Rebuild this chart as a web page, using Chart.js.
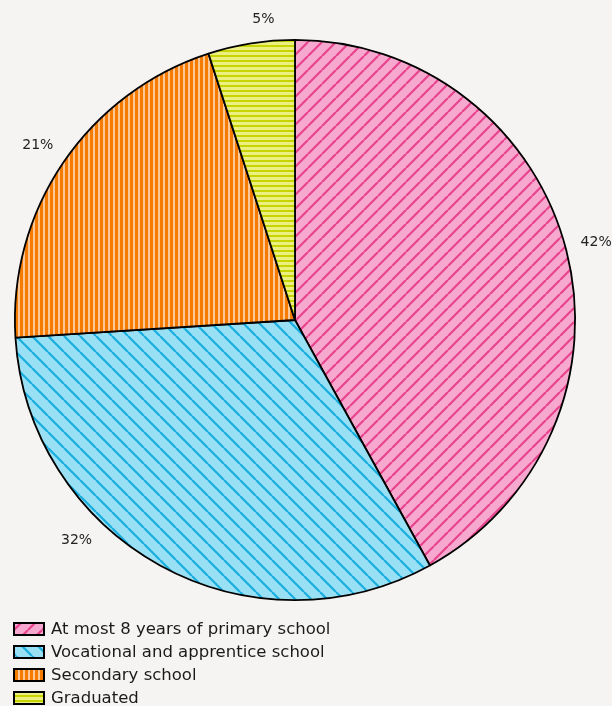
<!DOCTYPE html>
<html>
<head>
<meta charset="utf-8">
<script src="https://cdn.jsdelivr.net/npm/chart.js@4.4.0/dist/chart.umd.min.js"></script>
<style>
    html, body { margin: 0; padding: 0; background: #f6f4f2; }
    #wrap { width: 612px; height: 706px; }
</style>
</head>
<body>
<div id="wrap"><canvas id="myChart" width="612" height="706"></canvas></div>
<script>
var categorias = ['At most 8 years of primary school', 'Vocational and apprentice school', 'Secondary school', 'Graduated'];
var porcentajes = [42, 32, 21, 5];
var etiquetas = ['42%', '32%', '21%', '5%'];

// tramas de cada sector: fondo, linea, tipo
var tramas = [
    { fondo: '#f7a8cf', linea: '#e8448e', tipo: 'diag_up', paso: 14, ancho: 2.2 },
    { fondo: '#99e0f4', linea: '#19aee0', tipo: 'diag_down', paso: 16, ancho: 2.2 },
    { fondo: '#fcc898', linea: '#f57c00', tipo: 'vertical', paso: 5, ancho: 3 },
    { fondo: '#ecf080', linea: '#c8d400', tipo: 'horizontal', paso: 5, ancho: 2 }
];

// pequeño giro de cada etiqueta respecto al centro del sector (grados)
var giro_etiqueta = [0, 16, 0, 3];

var crear_trama = function (t) {
    var c = document.createElement('canvas');
    c.width = t.paso;
    c.height = t.paso;
    var g = c.getContext('2d');
    var p = t.paso;
    g.fillStyle = t.fondo;
    g.fillRect(0, 0, p, p);
    g.strokeStyle = t.linea;
    g.fillStyle = t.linea;
    g.lineWidth = t.ancho;
    if (t.tipo == 'vertical') {
        g.fillRect(0, 0, t.ancho, p);
    } else if (t.tipo == 'horizontal') {
        g.fillRect(0, 0, p, t.ancho);
    } else {
        g.beginPath();
        for (var k = -1; k <= 1; k++) {
            if (t.tipo == 'diag_up') {
                g.moveTo(k * p, p);
                g.lineTo(k * p + p, 0);
            } else {
                g.moveTo(k * p, 0);
                g.lineTo(k * p + p, p);
            }
        }
        g.stroke();
    }
    return g.createPattern(c, 'repeat');
};

var ctx = document.getElementById('myChart').getContext('2d');
var patrones = tramas.map(crear_trama);

var etiquetas_plugin = {
    id: 'etiquetas_plugin',
    afterDatasetsDraw: function (chart) {
        var c = chart.ctx;
        var meta = chart.getDatasetMeta(0);
        c.save();
        c.font = '14px "DejaVu Sans"';
        c.fillStyle = '#222';
        c.textAlign = 'center';
        c.textBaseline = 'middle';
        meta.data.forEach(function (arc, i) {
            var mid = (arc.startAngle + arc.endAngle) / 2 + giro_etiqueta[i] * Math.PI / 180;
            var w = c.measureText(etiquetas[i]).width / 2;
            var h = 7;
            var d = arc.outerRadius + 14 + w * Math.abs(Math.cos(mid)) + h * Math.abs(Math.sin(mid));
            c.fillText(etiquetas[i], arc.x + d * Math.cos(mid), arc.y + d * Math.sin(mid));
        });
        c.restore();
    }
};

var leyenda_plugin = {
    id: 'leyenda_plugin',
    afterDraw: function (chart) {
        var c = chart.ctx;
        var y0 = 629;
        var paso = 23;
        c.save();
        c.font = '16.5px "DejaVu Sans"';
        c.textBaseline = 'middle';
        categorias.forEach(function (cat, i) {
            var y = y0 + i * paso;
            c.fillStyle = patrones[i];
            c.fillRect(14, y - 6, 30, 12);
            c.strokeStyle = '#000';
            c.lineWidth = 2;
            c.strokeRect(14, y - 6, 30, 12);
            c.fillStyle = '#1a1a1a';
            c.fillText(cat, 51, y + 1);
        });
        c.restore();
    }
};

var myChart = new Chart(ctx, {
    type: 'pie',
    data: {
        labels: categorias,
        datasets: [{
            data: porcentajes,
            backgroundColor: patrones,
            borderColor: '#000',
            borderWidth: 1.8
        }]
    },
    plugins: [etiquetas_plugin, leyenda_plugin],
    options: {
        responsive: false,
        animation: false,
        layout: {
            padding: { top: 39, bottom: 105, left: 14, right: 36 }
        },
        plugins: {
            legend: { display: false },
            tooltip: { enabled: false }
        }
    }
});
</script>
</body>
</html>
